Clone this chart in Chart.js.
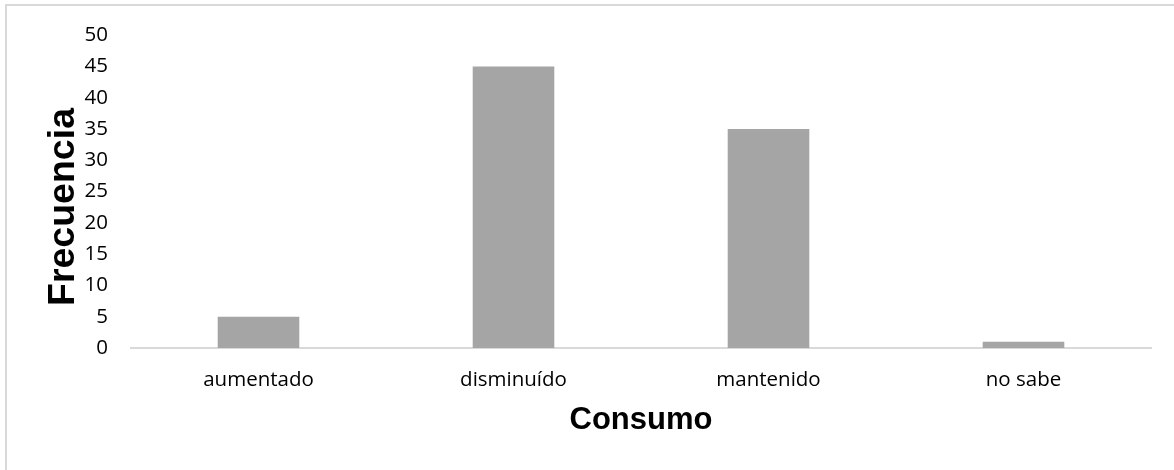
<!DOCTYPE html>
<html>
<head>
<meta charset="utf-8">
<script src="https://cdn.jsdelivr.net/npm/chart.js@4.4.1/dist/chart.umd.min.js"></script>
<style>
  html, body { margin: 0; padding: 0; background: #ffffff; }
  #wrap { position: relative; width: 1174px; height: 470px; }
</style>
</head>
<body>
<div id="wrap"><canvas id="chart" width="1174" height="470"></canvas></div>
<script>
// Categories and frequencies
const categories = ['aumentado', 'disminuído', 'mantenido', 'no sabe'];
const frequencies = [5, 45, 35, 1];
const yTicks = [0, 5, 10, 15, 20, 25, 30, 35, 40, 45, 50];
const xTitle = 'Consumo';
const yTitle = 'Frecuencia';

const tickFont = { family: '"Open Sans", sans-serif', size: 20.5 };
const titleFamily = '"Liberation Sans", Arial, sans-serif';

// Light frame along the top and left edges of the figure
const framePlugin = {
  id: 'frame',
  beforeDraw(chart) {
    const ctx = chart.ctx;
    ctx.save();
    ctx.strokeStyle = '#d9d9d9';
    ctx.lineWidth = 2;
    ctx.beginPath();
    ctx.moveTo(6, 470);
    ctx.lineTo(6, 5);
    ctx.lineTo(1174, 5);
    ctx.stroke();
    ctx.restore();
  }
};

// Rotated y-axis title
const yTitlePlugin = {
  id: 'yTitle',
  afterDraw(chart) {
    const ctx = chart.ctx;
    ctx.save();
    ctx.translate(64, 207);
    ctx.rotate(-Math.PI / 2);
    ctx.font = 'bold 37.5px ' + titleFamily;
    ctx.fillStyle = '#000000';
    ctx.textAlign = 'center';
    ctx.textBaseline = 'middle';
    ctx.fillText(yTitle, 0, 0);
    ctx.restore();
  }
};

new Chart(document.getElementById('chart'), {
  type: 'bar',
  data: {
    labels: categories,
    datasets: [{
      data: frequencies,
      backgroundColor: '#a5a5a5',
      borderWidth: 0,
      barPercentage: 0.32,
      categoryPercentage: 1.0
    }]
  },
  options: {
    responsive: false,
    animation: false,
    devicePixelRatio: 1,
    layout: { padding: { left: 0, top: 33, right: 23, bottom: 30 } },
    plugins: {
      legend: { display: false },
      tooltip: { enabled: false }
    },
    scales: {
      x: {
        grid: { display: false, drawTicks: false },
        border: { display: true, color: '#d9d9d9', width: 2 },
        ticks: { color: '#000000', font: tickFont, padding: 20, maxRotation: 0 },
        title: {
          display: true,
          text: xTitle,
          color: '#000000',
          font: { family: titleFamily, size: 31, weight: 'bold' },
          padding: { top: 0, bottom: 1 }
        },
        afterFit(scale) { scale.height = 92; }
      },
      y: {
        min: 0,
        max: 50,
        afterBuildTicks(scale) { scale.ticks = yTicks.map(v => ({ value: v })); },
        grid: { display: false, drawTicks: false },
        border: { display: false },
        ticks: { color: '#000000', font: tickFont, padding: 23 },
        afterFit(scale) { scale.width = 131; }
      }
    }
  },
  plugins: [framePlugin, yTitlePlugin]
});
</script>
</body>
</html>
